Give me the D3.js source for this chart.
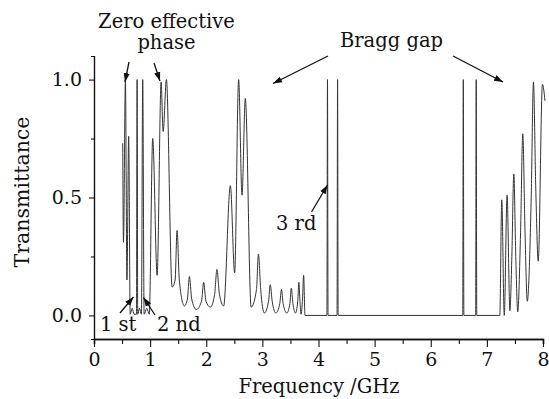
<!DOCTYPE html>
<html><head><meta charset="utf-8">
<script src="https://cdn.jsdelivr.net/npm/d3@7"></script>
<style>body{margin:0;background:#fff}svg text{font-family:"DejaVu Serif",serif;fill:#111}</style>
</head><body><svg id="c" width="549" height="399"></svg>
<script>
// Data
const freq = [0.512,0.525,0.56,0.587,0.618,0.645,0.68,0.715,0.757,0.768,0.779,0.81,0.845,0.868,0.893,0.94,0.985,1.046,1.125,1.196,1.232,1.29,1.392,
  1.445,1.48,1.52,1.61,1.665,1.70,1.74,1.824,1.915,1.954,1.995,2.073,2.15,2.19,2.235,2.31,2.43,2.506,2.577,2.637,2.696,2.80,
  2.895,2.93,2.97,3.035,3.11,3.14,3.175,3.24,3.31,3.34,3.37,3.435,3.49,3.515,3.545,3.59,3.63,3.65,3.67,3.69,3.715,3.735,3.76,
  4.15,4.16,4.17,4.33,4.34,4.35,6.57,6.58,6.59,6.80,6.81,6.82,
  7.23,7.265,7.31,7.36,7.41,7.445,7.48,7.515,7.55,7.60,7.64,7.68,7.72,7.79,7.83,7.87,7.915,7.99,8.035];
const trans = [0.73,0.31,1.0,0.15,0.76,0.005,0.03,0.005,0.005,1.0,0.005,0.03,0.005,1.0,0.005,0.03,0.005,0.75,0.17,0.99,0.78,1.0,0.12,
  0.15,0.36,0.15,0.04,0.07,0.165,0.07,0.025,0.06,0.14,0.06,0.035,0.09,0.195,0.09,0.04,0.55,0.18,1.0,0.51,0.92,0.035,
  0.11,0.26,0.11,0.01,0.06,0.13,0.06,0.01,0.05,0.11,0.05,0.01,0.05,0.115,0.05,0.01,0.06,0.14,0.06,0.005,0.07,0.17,0,
  0,1,0,0,1,0,0,1,0,0,1,0,
  0,0.49,0.0,0.51,0.02,0.25,0.60,0.25,0.015,0.35,0.77,0.35,0.06,0.5,0.99,0.55,0.23,0.98,0.91];
const xTicks = [0,1,2,3,4,5,6,7,8];
const xMinor = [0.5,1.5,2.5,3.5,4.5,5.5,6.5,7.5];
const yTicks = [0.0,0.5,1.0];
const yMinor = [0.25,0.75];

const svg = d3.select("#c");
const x = d3.scaleLinear().domain([0,8]).range([94,543]);
const y = d3.scaleLinear().domain([-0.1,1.1]).range([339,56]);

svg.append("defs").append("marker").attr("id","ah").attr("viewBox","0 0 10 10")
  .attr("refX",10).attr("refY",5).attr("markerWidth",9).attr("markerHeight",9)
  .attr("markerUnits","userSpaceOnUse").attr("orient","auto")
  .append("path").attr("d","M0,1.5 L10,5 L0,8.5 Z").attr("fill","#111");

const n = Math.min(freq.length, trans.length);
const pts = d3.range(n).map(i=>[freq[i],trans[i]]);
svg.append("path").datum(pts)
  .attr("d", d3.line().x(d=>x(d[0])).y(d=>y(d[1])).curve(d3.curveMonotoneX))
  .attr("fill","none").attr("stroke","#333").attr("stroke-width",1);

const gx = svg.append("g").attr("transform","translate(0,339)");
gx.call(d3.axisBottom(x).tickValues(xTicks).tickSize(8).tickSizeOuter(0).tickFormat(d3.format("d")));
gx.append("g").call(d3.axisBottom(x).tickValues(xMinor).tickSize(5).tickFormat(""));
gx.selectAll(".domain").attr("stroke","#111").attr("stroke-width",1.6);
gx.selectAll("line").attr("stroke","#111").attr("stroke-width",1.1);
gx.selectAll("text").attr("font-size",19).attr("y",14).attr("dy","0.71em").attr("fill","#111")
  .style("font-family","DejaVu Serif");

const gy = svg.append("g").attr("transform","translate(94,0)");
gy.call(d3.axisLeft(y).tickValues(yTicks).tickSize(5).tickSizeOuter(0).tickFormat(d3.format(".1f")));
gy.append("g").call(d3.axisLeft(y).tickValues(yMinor).tickSize(3).tickFormat(""));
gy.selectAll(".domain").attr("stroke","#111").attr("stroke-width",1.2);
gy.selectAll("line").attr("stroke","#111").attr("stroke-width",1.1);
gy.selectAll("text").attr("font-size",19).attr("x",-12).attr("fill","#111")
  .style("font-family","DejaVu Serif");

svg.append("text").attr("x",319).attr("y",393).attr("text-anchor","middle")
  .attr("font-size",19.5).attr("fill","#111").text("Frequency /GHz");
svg.append("text").attr("transform","translate(29,192) rotate(-90)").attr("text-anchor","middle")
  .attr("font-size",20.5).attr("fill","#111").text("Transmittance");

const txt = (t,xx,yy,anchor)=>svg.append("text").attr("x",xx).attr("y",yy)
  .attr("text-anchor",anchor||"start").attr("font-size",19.5).attr("fill","#111").text(t);
txt("Zero effective",166.5,27.5,"middle");
txt("phase",166.5,48.5,"middle");
txt("Bragg gap",391.5,46.5,"middle");
txt("3 rd",276,230);
txt("1 st",100,331);
txt("2 nd",157,331);

const arrow = (x1,y1,x2,y2)=>svg.append("line").attr("x1",x1).attr("y1",y1).attr("x2",x2).attr("y2",y2)
  .attr("stroke","#111").attr("stroke-width",1.3).attr("marker-end","url(#ah)");
arrow(129,62,125,82);
arrow(154,63,160,81);
arrow(328,56,273,83.5);
arrow(453,56,503,82);
arrow(311.5,212,327.5,185);
arrow(120,313,133.5,297);
arrow(155,315,143.5,297.5);
</script></body></html>
